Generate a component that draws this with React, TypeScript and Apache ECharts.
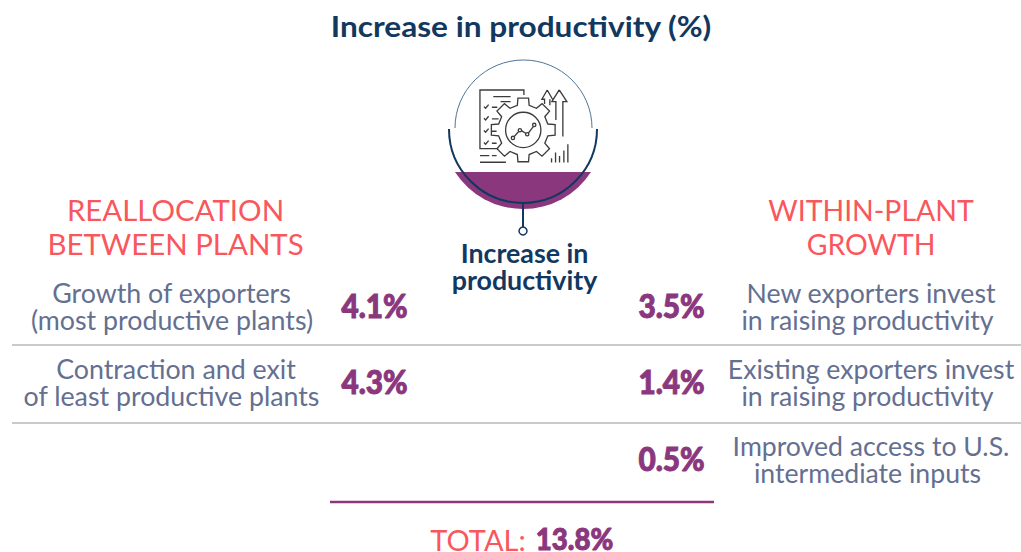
import React, { useEffect, useRef } from "react";
import * as echarts from "echarts";

const chartTitle = "Increase in productivity (%)";
const hubLabel = ["Increase in", "productivity"];
const leftHeading = ["REALLOCATION", "BETWEEN PLANTS"];
const rightHeading = ["WITHIN-PLANT", "GROWTH"];
const leftRows = [
  ["Growth of exporters", "(most productive plants)"],
  ["Contraction and exit", "of least productive plants"],
];
const leftValues = ["4.1%", "4.3%"];
const rightRows = [
  ["New exporters invest", "in raising productivity"],
  ["Existing exporters invest", "in raising productivity"],
  ["Improved access to U.S.", "intermediate inputs"],
];
const rightValues = ["3.5%", "1.4%", "0.5%"];
const totalLabel = "TOTAL:";
const totalValue = "13.8%";

const NAVY = "#12385f";
const PURPLE = "#8a377e";
const CORAL = "#f9575c";
const SLATE = "#646f91";
const RULE = "#b9b9b9";
const ICON = "#3c3c3c";
const FONT = "Lato";

// Gear outline around its centre, in the icon's own units.
function gearPath(cx: number, cy: number, outer: number, root: number, teeth: number) {
  const pts: string[] = [];
  const step = (Math.PI * 2) / teeth;
  for (let i = 0; i < teeth; i++) {
    const a = i * step - Math.PI / 2;
    const seq: [number, number][] = [
      [a - step * 0.3, root],
      [a - step * 0.21, outer],
      [a + step * 0.21, outer],
      [a + step * 0.3, root],
    ];
    for (const [ang, r] of seq) {
      pts.push(`${pts.length ? "L" : "M"}${(cx + r * Math.cos(ang)).toFixed(1)} ${(cy + r * Math.sin(ang)).toFixed(1)}`);
    }
  }
  return pts.join(" ") + " Z";
}

function circlePath(cx: number, cy: number, r: number) {
  return `M${cx - r} ${cy} A${r} ${r} 0 1 1 ${cx + r} ${cy} A${r} ${r} 0 1 1 ${cx - r} ${cy} Z`;
}

const iconDocument =
  "M282 135 L282 120 L150 120 L150 296 L205 296 " +
  "M190 140 L242 140 M212 155 L242 155 " +
  "M162 170 L167 175 L176 164 M186 172 L202 172 " +
  "M162 205 L167 210 L176 199 M186 207 L206 207 " +
  "M162 242 L167 247 L176 236 M186 244 L200 244 " +
  "M162 278 L167 283 L176 272 M186 280 L200 280 " +
  "M150 317 L178 317 M186 317 L200 317 M150 337 L228 337";
const iconArrows =
  "M388 120 L366 155 L378 155 L378 210 M388 120 L411 155 L399 155 L399 260 " +
  "M352 120 L336 148 L344 148 L344 162 M352 120 L368 148 M360 148 L360 166";
const iconBars =
  "M365 338 L365 325 M377 338 L377 308 M389 338 L389 318 M402 338 L402 302 M414 338 L414 283";
const iconTrend =
  "M252 261 L267 244 M276 243 L287 250 M296 249 L310 230";

const iconPath =
  iconDocument + " " + iconArrows + " " + iconBars + " " + iconTrend + " " +
  gearPath(280, 240, 97, 76, 8) + " " + circlePath(280, 240, 53) + " " +
  circlePath(249, 264, 5) + " " + circlePath(270, 241, 5) + " " + circlePath(292, 253, 5) + " " + circlePath(313, 225, 5);

echarts.graphic.registerShape("hubIcon", echarts.graphic.extendPath(iconPath as any, {}) as any);
echarts.graphic.registerShape("hubFill", echarts.graphic.extendPath("M455 172 L591 172 A81 81 0 0 1 455 172 Z" as any, {}) as any);
echarts.graphic.registerShape("hubOuter", echarts.graphic.extendPath("M449 129 A74 74 0 0 0 597 129" as any, {}) as any);
echarts.graphic.registerShape("hubInner", echarts.graphic.extendPath("M455 128 A68.5 68 0 0 1 592 128" as any, {}) as any);

const text = (
  str: string, x: number, y: number, size: number, fill: string,
  opts: { weight?: number; squeeze?: number; thicken?: number } = {},
) => ({
  type: "text",
  x,
  y,
  scaleX: opts.squeeze ?? 1,
  silent: true,
  style: {
    text: str,
    x: 0,
    y: 0,
    fill,
    font: `${opts.weight ?? 400} ${size}px ${FONT}, sans-serif`,
    lineHeight: Math.round(size * 0.85),
    align: "center",
    verticalAlign: "middle",
    ...(opts.thicken ? { stroke: fill, lineWidth: opts.thicken } : {}),
  },
});

const rowY = [306, 382, 459];
const leftCentres = [[171.5, 172], [176, 171.5]];
const rightCentres = [871, 867.5];
const figure = { weight: 900, squeeze: 0.93, thicken: 1 };

function buildElements() {
  const els: any[] = [];
  els.push(text(chartTitle, 521, 26, 29, NAVY, { weight: 700, squeeze: 1.09 }));

  els.push({ type: "hubFill", style: { fill: PURPLE } });
  els.push({ type: "hubInner", style: { fill: "none", stroke: "#4f7596", lineWidth: 1 } });
  els.push({ type: "hubOuter", style: { fill: "none", stroke: NAVY, lineWidth: 2 } });
  els.push({
    type: "hubIcon",
    x: 430,
    y: 50,
    scaleX: 1 / 3,
    scaleY: 1 / 3,
    style: { fill: "none", stroke: ICON, lineWidth: 4 },
  });
  els.push({ type: "line", shape: { x1: 523, y1: 202, x2: 523, y2: 227 }, style: { stroke: NAVY, lineWidth: 2 } });
  els.push({ type: "circle", shape: { cx: 523, cy: 231, r: 4 }, style: { fill: "#fff", stroke: NAVY, lineWidth: 1.5 } });

  hubLabel.forEach((s, i) => els.push(text(s, 524.5, 253 + i * 27, 26, NAVY, { weight: 700, squeeze: 1.03 })));
  leftHeading.forEach((s, i) => els.push(text(s, 175.5, 210 + i * 34, 29, CORAL, { squeeze: 1.015 })));
  rightHeading.forEach((s, i) => els.push(text(s, 871, 210 + i * 34, 29, CORAL, { squeeze: 0.98 })));

  leftRows.forEach((lines, r) => {
    lines.forEach((s, i) => els.push(text(s, leftCentres[r][i], rowY[r] - 13 + i * 27, 26, SLATE, { squeeze: 1.03 })));
    els.push(text(leftValues[r], r === 0 ? 374.5 : 374.5, rowY[r], 32, PURPLE, figure));
  });
  rightRows.forEach((lines, r) => {
    lines.forEach((s, i) => els.push(text(s, rightCentres[i], rowY[r] - 13 + i * 27, 26, SLATE, { squeeze: 1.025 })));
    els.push(text(rightValues[r], 671.5, rowY[r], 32, PURPLE, figure));
  });

  [345, 423].forEach((y) =>
    els.push({ type: "line", shape: { x1: 12, y1: y, x2: 1021, y2: y }, style: { stroke: RULE, lineWidth: 1.3 } }),
  );
  els.push({ type: "line", shape: { x1: 330, y1: 502, x2: 714, y2: 502 }, style: { stroke: PURPLE, lineWidth: 2.5 } });
  els.push(text(totalLabel, 478, 539, 29, CORAL));
  els.push(text(totalValue, 574.5, 539, 30, PURPLE, { ...figure, squeeze: 0.92 }));
  return els;
}

export default function App() {
  const ref = useRef<HTMLDivElement>(null);
  useEffect(() => {
    document.body.style.margin = "0";
    const chart = echarts.init(ref.current!, undefined, { renderer: "svg" });
    chart.setOption({ animation: false, backgroundColor: "#fff", graphic: { elements: buildElements() } });
    return () => chart.dispose();
  }, []);
  return <div ref={ref} style={{ width: 1021, height: 552 }} />;
}
